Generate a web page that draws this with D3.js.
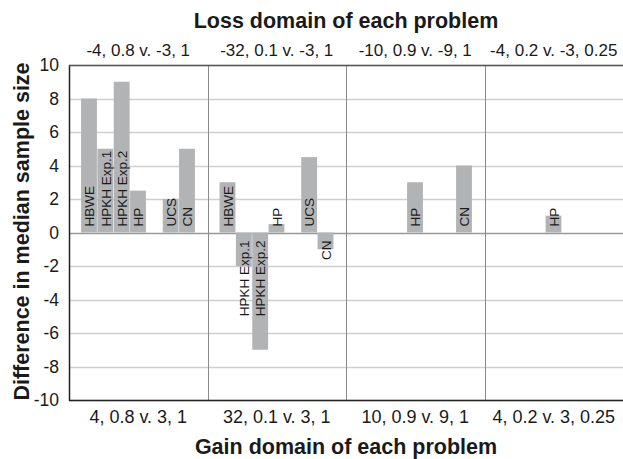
<!DOCTYPE html>
<html lang="en">
<head>
<meta charset="utf-8">
<title>Difference in median sample size</title>
<script src="https://d3js.org/d3.v7.min.js"></script>
<style>
  body { margin: 0; background: #fff; }
  text { font-family: "Liberation Sans", Arial, sans-serif; }
</style>
</head>
<body>
<script>
// problems (gain / loss versions) and the per-study differences
var gainLabels = ["4, 0.8 v. 3, 1", "32, 0.1 v. 3, 1", "10, 0.9 v. 9, 1", "4, 0.2 v. 3, 0.25"]
var lossLabels = ["-4, 0.8 v. -3, 1", "-32, 0.1 v. -3, 1", "-10, 0.9 v. -9, 1", "-4, 0.2 v. -3, 0.25"]
var studies = ["HBWE", "HPKH Exp.1", "HPKH Exp.2", "HP", "", "UCS", "CN"]
var hbwe  = [8, 3, null, null]
var hpkh1 = [5, -2, null, null]
var hpkh2 = [9, -7, null, null]
var hp    = [2.5, 0.5, 3, 1]
var blank = [null, null, null, null]
var ucs   = [2, 4.5, null, null]
var cn    = [5, -1, 4, null]
var yTicks = [-10, -8, -6, -4, -2, 0, 2, 4, 6, 8, 10]

var series = [hbwe, hpkh1, hpkh2, hp, blank, ucs, cn]

var width = 623, height = 459
var margin = {top: 65, right: 0, bottom: 59, left: 69}

var svg = d3.select("body").append("svg")
  .attr("width", width)
  .attr("height", height)

var x0 = d3.scaleBand()
  .domain(d3.range(gainLabels.length))
  .range([margin.left, width - margin.right])
  .padding(0)

var x1 = d3.scaleBand()
  .domain(d3.range(studies.length))
  .range([0, x0.bandwidth()])
  .paddingInner(0)
  .paddingOuter(0.74)

var y = d3.scaleLinear()
  .domain([-10, 10])
  .range([height - margin.bottom, margin.top])

// horizontal gridlines
svg.append("g")
  .selectAll("line")
  .data(yTicks)
  .enter().append("line")
    .attr("x1", margin.left)
    .attr("x2", width)
    .attr("y1", function(d) { return Math.round(y(d)) + 0.5 })
    .attr("y2", function(d) { return Math.round(y(d)) + 0.5 })
    .attr("stroke", function(d) { return d == 0 ? "#999" : "#cfcfcf" })
    .attr("stroke-width", 1.5)

// group separators
svg.append("g")
  .selectAll("line")
  .data(d3.range(1, gainLabels.length))
  .enter().append("line")
    .attr("x1", function(d) { return Math.round(x0(d)) + 0.5 })
    .attr("x2", function(d) { return Math.round(x0(d)) + 0.5 })
    .attr("y1", margin.top)
    .attr("y2", height - margin.bottom)
    .attr("stroke", "#8a8a8a")
    .attr("stroke-width", 1)

// bars
var bars = []
series.forEach(function(s, i) {
  s.forEach(function(v, g) {
    if (v !== null) bars.push({g: g, i: i, value: v, name: studies[i]})
  })
})

svg.append("g")
  .selectAll("rect")
  .data(bars)
  .enter().append("rect")
    .attr("x", function(d) { return x0(d.g) + x1(d.i) })
    .attr("width", x1.bandwidth() - 0.5)
    .attr("y", function(d) { return y(Math.max(0, d.value)) })
    .attr("height", function(d) { return Math.abs(y(d.value) - y(0)) })
    .attr("fill", "#b2b3b5")

// bar labels, rotated, anchored at the zero line
svg.append("g")
  .selectAll("text")
  .data(bars)
  .enter().append("text")
    .attr("transform", function(d) {
      var cx = x0(d.g) + x1(d.i) + x1.bandwidth() / 2 + 5
      var cy = d.value >= 0 ? y(0) - 6 : y(0) + 8
      return "translate(" + cx + "," + cy + ") rotate(-90)"
    })
    .attr("text-anchor", function(d) { return d.value >= 0 ? "start" : "end" })
    .style("font-size", "13.5px")
    .attr("fill", "#1a1a1a")
    .text(function(d) { return d.name })

// axis lines
svg.append("line")
  .attr("x1", margin.left + 0.5).attr("x2", margin.left + 0.5)
  .attr("y1", margin.top).attr("y2", height - margin.bottom + 1)
  .attr("stroke", "#222").attr("stroke-width", 1.5)
svg.append("line")
  .attr("x1", margin.left).attr("x2", width)
  .attr("y1", height - margin.bottom + 0.5).attr("y2", height - margin.bottom + 0.5)
  .attr("stroke", "#222").attr("stroke-width", 1.5)
svg.append("line")
  .attr("x1", margin.left).attr("x2", width)
  .attr("y1", margin.top + 0.5).attr("y2", margin.top + 0.5)
  .attr("stroke", "#555").attr("stroke-width", 1.5)

// y tick labels
svg.append("g")
  .selectAll("text")
  .data(yTicks)
  .enter().append("text")
    .attr("x", margin.left - 10)
    .attr("y", function(d) { return y(d) })
    .attr("dy", "0.35em")
    .attr("text-anchor", "end")
    .style("font-size", "17.5px")
    .attr("fill", "#1a1a1a")
    .text(function(d) { return d })

// bottom / top category labels
svg.append("g")
  .selectAll("text")
  .data(gainLabels)
  .enter().append("text")
    .attr("x", function(d, i) { return x0(i) + x0.bandwidth() / 2 })
    .attr("y", 423)
    .attr("text-anchor", "middle")
    .style("font-size", "18px")
    .attr("fill", "#1a1a1a")
    .text(function(d) { return d })

svg.append("g")
  .selectAll("text")
  .data(lossLabels)
  .enter().append("text")
    .attr("x", function(d, i) { return x0(i) + x0.bandwidth() / 2 })
    .attr("y", 56)
    .attr("text-anchor", "middle")
    .style("font-size", "17px")
    .attr("fill", "#1a1a1a")
    .text(function(d) { return d })

// axis titles
svg.append("text")
  .attr("x", 346)
  .attr("y", 454)
  .attr("text-anchor", "middle")
  .style("font-size", "21.5px")
  .style("font-weight", "bold")
  .attr("fill", "#1a1a1a")
  .text("Gain domain of each problem")

svg.append("text")
  .attr("x", 346)
  .attr("y", 28)
  .attr("text-anchor", "middle")
  .style("font-size", "21.5px")
  .style("font-weight", "bold")
  .attr("fill", "#1a1a1a")
  .text("Loss domain of each problem")

svg.append("text")
  .attr("transform", "translate(29," + (y(0) - 1) + ") rotate(-90)")
  .attr("text-anchor", "middle")
  .style("font-size", "21.5px")
  .style("font-weight", "bold")
  .attr("fill", "#1a1a1a")
  .text("Difference in median sample size")
</script>
</body>
</html>
